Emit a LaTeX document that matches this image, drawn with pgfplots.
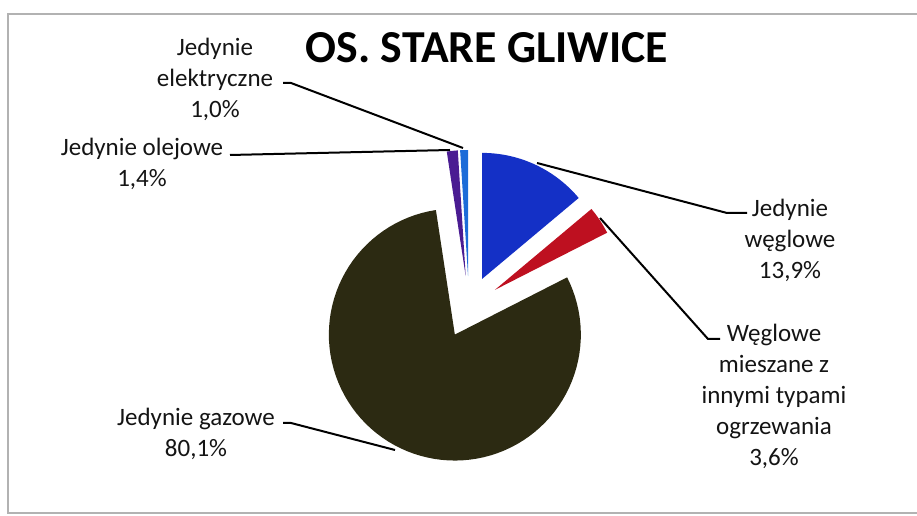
\documentclass[border=0pt]{standalone}
\usepackage{fontspec}
\setmainfont{Carlito}
\usepackage{pgfplots}
\pgfplotsset{compat=1.18}
\definecolor{cBlue}{HTML}{1430C6}
\definecolor{cRed}{HTML}{BE1020}
\definecolor{cGreen}{HTML}{2C2A12}
\definecolor{cPurple}{HTML}{4A1C92}
\definecolor{cLight}{HTML}{1C6CD8}
\definecolor{cText}{HTML}{141414}
% slice: colour, cumulative percent before, cumulative percent after
\newcommand\slice[3]{%
  \addplot[fill=#1, draw=none, domain=0:90, samples=91, variable=\t]
  ({\t<0.5 ? 469+31*cos(90-1.8*(#2+#3)) : 469+31*cos(90-1.8*(#2+#3))+126*cos(90-3.6*#2-(\t-1)*3.6*(#3-#2)/89)},
   {\t<0.5 ? 209+31*sin(90-1.8*(#2+#3)) : 209+31*sin(90-1.8*(#2+#3))+126*sin(90-3.6*#2-(\t-1)*3.6*(#3-#2)/89)});
}
\begin{document}
\begin{tikzpicture}
\begin{axis}[
  scale only axis, width=687.75pt, height=387pt,
  xmin=0, xmax=917, ymin=0, ymax=516,
  hide axis, clip=false,
]
% values: 13.9, 3.6, 80.1, 1.4, 1.0 (percent)
\slice{cBlue}{0}{13.9}
\slice{cRed}{13.9}{17.5}
\slice{cGreen}{17.5}{97.6}
\slice{cPurple}{97.6}{99.0}
\slice{cLight}{99.0}{100}
% frame
\draw[gray!60, line width=0.9pt] (axis cs:917,502) -- (axis cs:8,502) -- (axis cs:8,3) -- (axis cs:917,3);
% leader lines
\tikzset{lead/.style={black, line width=1.5pt, line join=round}}
\draw[lead] (axis cs:283,433) -- (axis cs:291,433) -- (axis cs:463,368);
\draw[lead] (axis cs:230,361) -- (axis cs:450,366);
\draw[lead] (axis cs:537,353) -- (axis cs:727,303) -- (axis cs:747,303);
\draw[lead] (axis cs:600,298) -- (axis cs:708,177) -- (axis cs:720,177);
\draw[lead] (axis cs:283,93) -- (axis cs:291,93) -- (axis cs:395,66);
% title
\node[font=\fontsize{34.3}{40}\selectfont\bfseries, text=black] at (axis cs:487,468) {OS. STARE GLIWICE};
% labels
\tikzset{lab/.style={font=\fontsize{18.75}{23.25}\selectfont, text=cText, align=center, inner sep=0pt}}
\node[lab] at (axis cs:215,437) {Jedynie\\elektryczne\\1,0\%};
\node[lab, anchor=north] at (axis cs:142,378) {Jedynie olejowe\\1,4\%};
\node[lab] at (axis cs:790,276) {Jedynie\\węglowe\\13,9\%};
\node[lab] at (axis cs:774,120) {Węglowe\\mieszane z\\innymi typami\\ogrzewania\\3,6\%};
\node[lab] at (axis cs:196,82) {Jedynie gazowe\\80,1\%};
\end{axis}
\pgfresetboundingbox
\path (0,0) rectangle (687.75pt,387pt);
\end{tikzpicture}
\end{document}
